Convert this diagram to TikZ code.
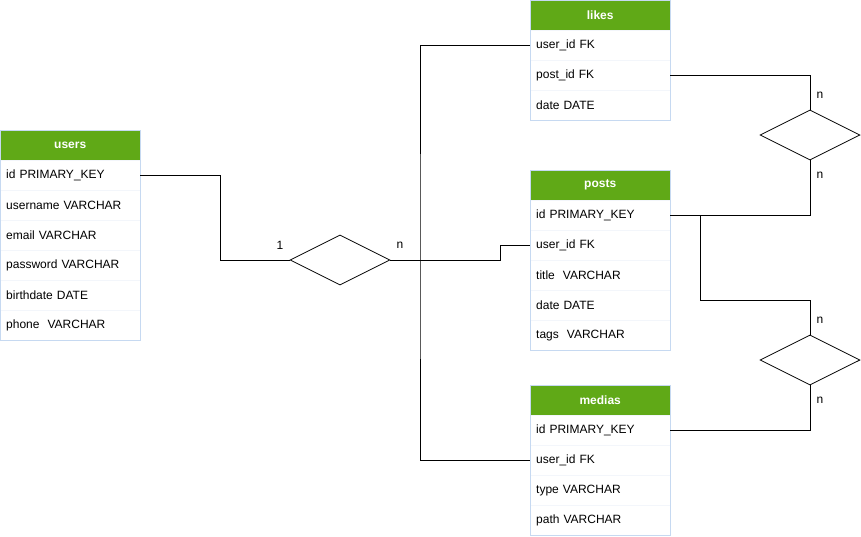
\documentclass[tikz,border=0pt]{standalone}
\usepackage{fontspec}
\setmainfont{Liberation Sans}
\usetikzlibrary{shapes.geometric}
\definecolor{hdrgreen}{HTML}{60A917}
\definecolor{tblborder}{HTML}{C6D9F1}
\definecolor{rowsep}{HTML}{F3F6FB}
\tikzset{
  x=1pt, y=-1pt,
  every node/.style={font=\fontsize{12}{14}\selectfont},
  hdr/.style={anchor=north west, fill=hdrgreen, text=white, font=\fontsize{12}{14}\selectfont\bfseries,
    minimum width=140pt, minimum height=30pt, inner sep=0pt},
  row/.style={anchor=north west, draw=rowsep, text width=128pt, inner xsep=6pt, inner ysep=0pt,
    minimum height=30pt, align=left},
  outline/.style={draw=tblborder, line width=0.8pt},
  rel/.style={draw, shape=diamond, aspect=2, minimum width=100pt, minimum height=50pt, inner sep=0pt, line width=0.8pt},
  link/.style={draw, line width=0.8pt},
  card/.style={inner sep=0pt}
}
\begin{document}
\begin{tikzpicture}
\useasboundingbox (0,0) rectangle (861,536);
% users
\node[hdr] (uh) at (0,130) {users};
\node[row] (u1) at (0,160) {id PRIMARY\_KEY};
\node[row] (u2) at (0,190) {username VARCHAR};
\node[row] (u3) at (0,220) {email VARCHAR};
\node[row] (u4) at (0,250) {password VARCHAR};
\node[row] (u5) at (0,280) {birthdate DATE};
\node[row] (u6) at (0,310) {phone\ \ VARCHAR};
\draw[outline] (uh.north west) rectangle (u6.south east);
% likes
\node[hdr] (lh) at (530,0) {likes};
\node[row] (l1) at (530,30) {user\_id FK};
\node[row] (l2) at (530,60) {post\_id FK};
\node[row] (l3) at (530,90) {date DATE};
\draw[outline] (lh.north west) rectangle (l3.south east);
% posts
\node[hdr] (ph) at (530,170) {posts};
\node[row] (p1) at (530,200) {id PRIMARY\_KEY};
\node[row] (p2) at (530,230) {user\_id FK};
\node[row] (p3) at (530,260) {title\ \ VARCHAR};
\node[row] (p4) at (530,290) {date DATE};
\node[row] (p5) at (530,320) {tags\ \ VARCHAR};
\draw[outline] (ph.north west) rectangle (p5.south east);
% medias
\node[hdr] (mh) at (530,385) {medias};
\node[row] (m1) at (530,415) {id PRIMARY\_KEY};
\node[row] (m2) at (530,445) {user\_id FK};
\node[row] (m3) at (530,475) {type VARCHAR};
\node[row] (m4) at (530,505) {path VARCHAR};
\draw[outline] (mh.north west) rectangle (m4.south east);
% relationships
\node[rel] (d1) at (340,260) {};
\node[rel] (d2) at (810,135) {};
\node[rel] (d3) at (810,360) {};
\coordinate (j) at (420,260);
% connectors
\draw[link] (u1.east) -- ++(80,0) |- (d1.west);
\draw[link] (d1.east) -- (j);
\draw[link] (l1.west) -| (j) |- (m2.west);
\draw[link] (j) -- ++(80,0) |- (p2.west);
\draw[link] (l2.east) -| (d2.north);
\draw[link] (d2.south) |- (p1.east);
\draw[link] (p1.east) -- ++(30,0) -- ++(0,85) -| (d3.north);
\draw[link] (d3.south) |- (m1.east);
% cardinalities
\node[card] (c1) at (280,245) {1};
\node[card] (c2) at (400,245) {n};
\node[card] (c3) at (820,95) {n};
\node[card] (c4) at (820,175) {n};
\node[card] (c5) at (820,320) {n};
\node[card] (c6) at (820,400) {n};
\end{tikzpicture}
\end{document}
